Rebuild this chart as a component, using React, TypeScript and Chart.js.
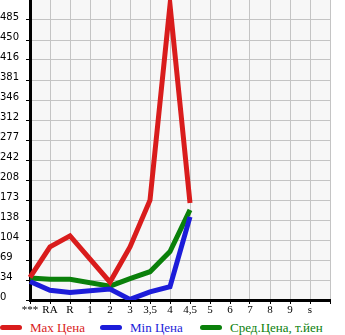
import React, { useEffect, useRef } from "react";
import { Chart, registerables } from "chart.js";

Chart.register(...registerables);

const categories = ["***", "RA", "R", "1", "2", "3", "3,5", "4", "4,5", "5", "6", "7", "8", "9", "s", ""];
const maxPrice = [39, 92, 111, null, 31, 92, 173, 511, 168, null, null, null, null, null, null, null];
const minPrice = [32, 17, 13, null, 19, 1, 14, 23, 144, null, null, null, null, null, null, null];
const avgPrice = [38, 36, 36, null, 24, 37, 49, 84, 156, null, null, null, null, null, null, null];
const yTickLabels = ["0", "34", "69", "104", "138", "173", "208", "242", "277", "312", "346", "381", "416", "450", "485"];
const seriesNames = ["Max Цена", "Min Цена", "Сред.Цена, т.йен"];
const seriesColors = ["#d91c1c", "#1c1cd9", "#0a800a"];

const Y_STEP = 485 / 14;

const bgPlugin = {
  id: "plotBg",
  beforeDraw(chart: any) {
    const { ctx, chartArea } = chart;
    if (!chartArea) return;
    ctx.save();
    ctx.fillStyle = "#f7f7f7";
    ctx.fillRect(chartArea.left, chartArea.top, chartArea.right - chartArea.left, chartArea.bottom - chartArea.top);
    ctx.restore();
  },
};

export default function App() {
  const ref = useRef<HTMLCanvasElement | null>(null);
  useEffect(() => {
    document.body.style.margin = "0";
    const canvas = ref.current!;
    const series = [maxPrice, minPrice, avgPrice];
    const chart = new Chart(canvas, {
      type: "line",
      data: {
        labels: categories,
        datasets: series.map((d, i) => ({
          label: seriesNames[i],
          data: d,
          borderColor: seriesColors[i],
          backgroundColor: seriesColors[i],
          borderWidth: 5,
          pointRadius: 0,
          tension: 0,
          spanGaps: true,
          borderJoinStyle: "miter" as const,
        })),
      },
      options: {
        animation: false,
        responsive: false,
        maintainAspectRatio: false,
        layout: { padding: { top: 0, right: 15, left: 0, bottom: 0 } },
        plugins: {
          tooltip: { enabled: false },
          legend: { display: false },
        },
        scales: {
          x: {
            type: "category",
            offset: false,
            afterFit: (scale: any) => {
              scale.height = 16;
              scale.paddingLeft = 0;
              scale.paddingRight = 0;
            },
            grid: { color: "#c4c4c4", lineWidth: 1, tickLength: 4, tickColor: "#000" },
            border: { color: "#000", width: 3 },
            ticks: {
              autoSkip: false,
              maxRotation: 0,
              color: "#000",
              padding: 0,
              font: { family: "'Liberation Serif', serif", size: 11 },
            },
          },
          y: {
            min: 0,
            max: Y_STEP * 15,
            afterBuildTicks: (scale: any) => {
              scale.ticks = yTickLabels.map((_, i) => ({ value: i * Y_STEP }));
            },
            afterFit: (scale: any) => {
              scale.width = 30;
              scale.paddingTop = 0;
              scale.paddingBottom = 0;
            },
            grid: { color: "#c4c4c4", lineWidth: 1, tickLength: 4, tickColor: "#000" },
            border: { color: "#000", width: 3 },
            ticks: {
              color: "#000",
              crossAlign: "far",
              labelOffset: -3,
              padding: 2,
              font: { family: "'DejaVu Sans', sans-serif", size: 10 },
              callback: (_v: any, i: number) => yTickLabels[i],
            },
          },
        },
      },
      plugins: [bgPlugin],
    } as any);
    return () => chart.destroy();
  }, []);
  return (
    <div style={{ position: "relative", width: 345, height: 335 }}>
      <canvas ref={ref} width={345} height={316} style={{ display: "block" }} />
      {seriesNames.map((name, i) => (
        <div
          key={name}
          style={{
            position: "absolute",
            left: i * 100,
            top: 319,
            height: 17,
            display: "flex",
            alignItems: "center",
            whiteSpace: "nowrap",
            fontFamily: "'Liberation Serif', serif",
            fontSize: 13,
            color: seriesColors[i],
          }}
        >
          <span
            style={{
              display: "inline-block",
              width: 22,
              height: 5,
              borderRadius: 3,
              background: seriesColors[i],
              marginRight: 8,
            }}
          />
          <span>{name}</span>
        </div>
      ))}
    </div>
  );
}
